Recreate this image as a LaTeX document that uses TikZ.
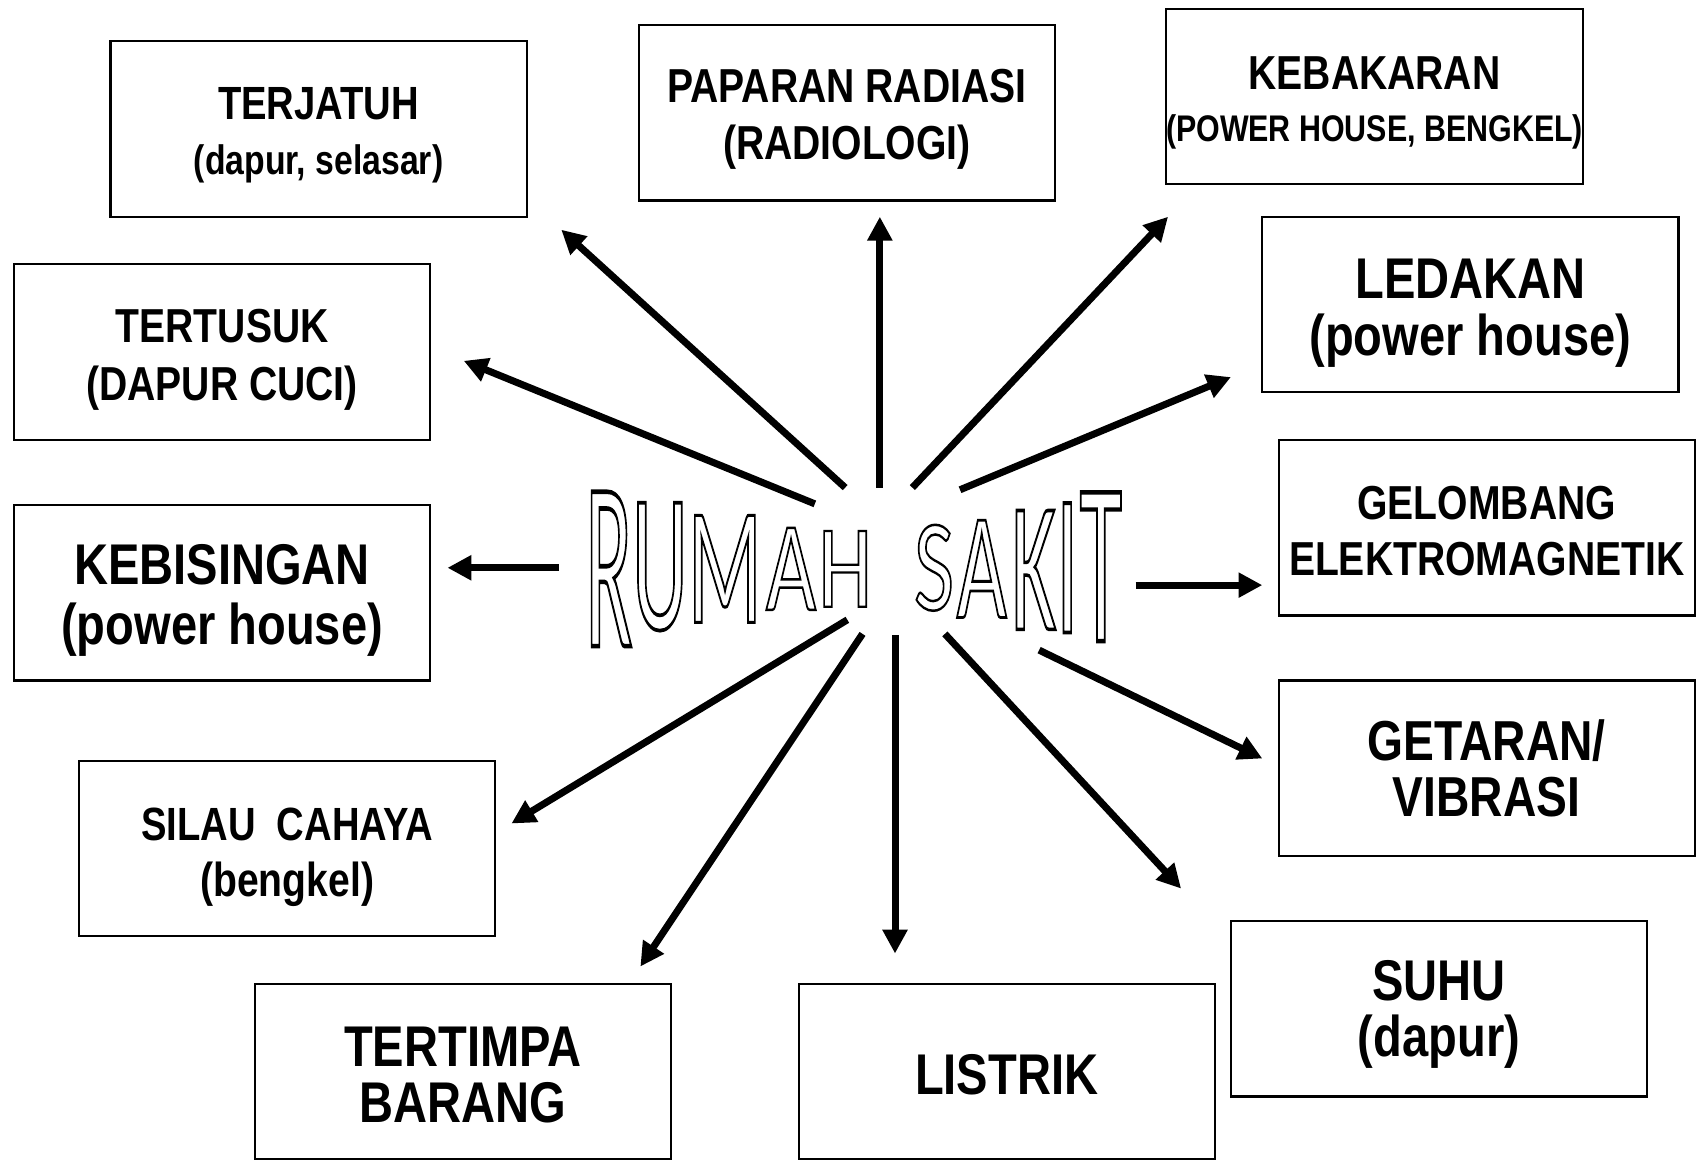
\documentclass[tikz,border=0pt]{standalone}
\usepackage{fontspec}
\usepackage{graphicx}
\usetikzlibrary{arrows.meta}
\newfontfamily\boxfont{Liberation Sans Bold}[FakeStretch=0.82]
\newfontfamily\wordfont{Carlito}
\newcommand\fs[2][53]{\fontsize{#2}{#1}\selectfont}
% two centred lines with a fixed baseline distance; #6 = extra top space
\newcommand\tl[6][53]{\vbox{\vskip#6pt\baselineskip=#1pt\lineskiplimit=-1000pt\lineskip=0pt\halign{\hfil##\hfil\cr\fs{#2}#3\cr\fs{#4}#5\cr}}}
% outlined letter (text rendering mode 1 = stroke only)
\newcommand\olet[2]{\special{pdf:literal q 1 Tr 1.9 w}\scalebox{0.8}[#1]{\wordfont\fontsize{100}{100}\selectfont #2}\special{pdf:literal Q}}
\begin{document}
\begin{tikzpicture}[x=1pt,y=-1pt,
  box/.style={draw,line width=2pt,minimum width=384pt,minimum height=162pt,align=center,inner sep=0pt,font=\boxfont},
  letter/.style={inner sep=0pt,outer sep=0pt},
  arr/.style={line width=6.5pt,-{Triangle[length=22pt,width=22pt]}}]
\useasboundingbox (0,0) rectangle (1568,1072);
% boxes
\node[box] (terjatuh) at (294,119) {\tl[51]{43}{TERJATUH}{38}{(dapur, selasar)}{12}};
\node[box] (paparan) at (781.5,104) {\tl{44}{PAPARAN RADIASI}{44}{(RADIOLOGI)}{12}};
\node[box] (kebakaran) at (1268.5,89) {\tl[48]{44}{KEBAKARAN}{34.2}{(POWER HOUSE, BENGKEL)}{12}};
\node[box] (ledakan) at (1357,281) {\tl{53}{LEDAKAN}{53}{(power house)}{16}};
\node[box] (tertusuk) at (205,325) {\tl{44}{TERTUSUK}{44}{(DAPUR CUCI)}{14}};
\node[box] (gelombang) at (1372,487) {\tl[52]{44}{GELOMBANG}{44}{ELEKTROMAGNETIK}{6}};
\node[box] (kebisingan) at (205,547) {\tl[55]{53}{KEBISINGAN}{53}{(power house)}{14}};
\node[box] (getaran) at (1372,709) {\tl[52]{52}{GETARAN/}{52}{VIBRASI}{0}};
\node[box] (silau) at (265,783) {\tl[52]{43}{SILAU\ \ CAHAYA}{44}{(bengkel)}{16}};
\node[box] (suhu) at (1328,931) {\tl[52]{53}{SUHU}{53}{(dapur)}{10}};
\node[box] (tertimpa) at (427,989) {\tl[52]{53}{TERTIMPA}{53}{BARANG}{6}};
\node[box] (listrik) at (929,989) {\vbox{\vskip6pt\hbox{\fs{53}LISTRIK}}};
% centre word
\node[letter] (w1) at (562,525) {\olet{2.22}{R}};
\node[letter] (w2) at (609,523) {\olet{1.82}{U}};
\node[letter] (w3) at (669,525) {\olet{1.54}{M}};
\node[letter] (w4) at (730,525) {\olet{1.18}{A}};
\node[letter] (w5) at (780,525) {\olet{1.09}{H}};
\node[letter] (w6) at (862,524) {\olet{1.21}{S}};
\node[letter] (w7) at (906,525) {\olet{1.40}{A}};
\node[letter] (w8) at (954,526) {\olet{1.71}{K}};
\node[letter] (w9) at (985,524) {\olet{1.86}{I}};
\node[letter] (w10) at (1016,523) {\olet{2.14}{T}};
% arrow ends
\coordinate (s1) at (780,450);  \coordinate (t1) at (518,212);
\coordinate (s2) at (812,450);  \coordinate (t2) at (812,200);
\coordinate (s3) at (842,450);  \coordinate (t3) at (1078,200);
\coordinate (s4) at (886,452);  \coordinate (t4) at (1136,348);
\coordinate (s5) at (752,465);  \coordinate (t5) at (428,333);
\coordinate (s6) at (516,524);  \coordinate (t6) at (413,524);
\coordinate (s7) at (1048,540); \coordinate (t7) at (1165,540);
\coordinate (s8) at (959,600);  \coordinate (t8) at (1165,700);
\coordinate (s9) at (872,585);  \coordinate (t9) at (1090,820);
\coordinate (s10) at (826,586); \coordinate (t10) at (826,880);
\coordinate (s11) at (796,585); \coordinate (t11) at (591,892);
\coordinate (s12) at (782,572); \coordinate (t12) at (472,760);
\foreach \i in {1,...,12}{\draw[arr] (s\i) -- (t\i);}
\end{tikzpicture}
\end{document}
